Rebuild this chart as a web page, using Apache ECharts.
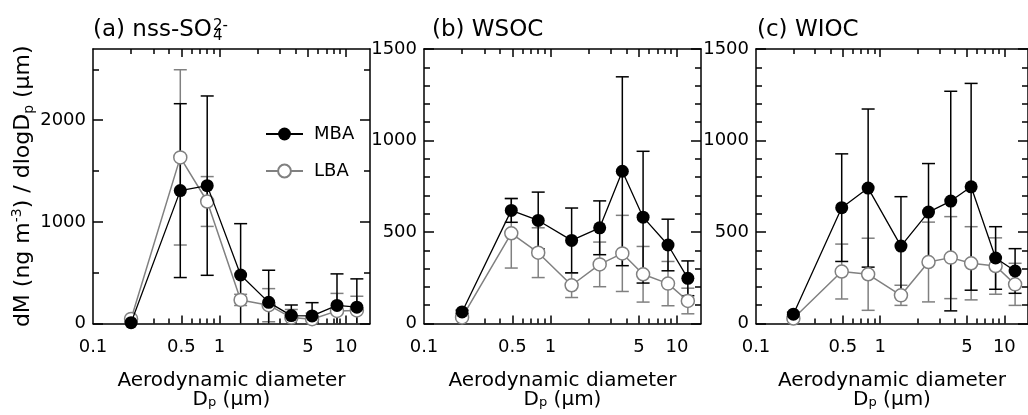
<!DOCTYPE html>
<html>
<head>
<meta charset="utf-8">
<script src="https://cdn.jsdelivr.net/npm/echarts@6/dist/echarts.min.js"></script>
<style>
  html, body { margin: 0; padding: 0; background: #fff; }
  #chart { width: 1028px; height: 415px; }
</style>
</head>
<body>
<div id="chart"></div>
<script>
// diametros medios de cada etapa del impactador (um)
const diameters = [0.2, 0.49, 0.8, 1.47, 2.45, 3.7, 5.4, 8.5, 12.2];

// (a) nss-SO4 2-
const nssMBA = [8, 1307, 1356, 477, 208, 78, 75, 178, 161];
const nssMBAerr = [10, 855, 882, 505, 316, 104, 130, 310, 278];
const nssLBA = [45, 1634, 1200, 232, 180, 58, 42, 124, 128];
const nssLBAerr = [10, 862, 245, 55, 163, 80, 60, 172, 140];

// (b) WSOC
const wsocMBA = [63, 618, 563, 454, 523, 832, 581, 429, 247];
const wsocMBAerr = [10, 65, 155, 177, 147, 516, 360, 141, 95];
const wsocLBA = [33, 493, 387, 209, 323, 383, 269, 218, 123];
const wsocLBAerr = [8, 190, 136, 67, 122, 208, 152, 121, 70];

// (c) WIOC
const wiocMBA = [51, 633, 740, 423, 609, 669, 747, 358, 287];
const wiocMBAerr = [10, 294, 432, 270, 265, 600, 565, 171, 122];
const wiocLBA = [27, 284, 269, 154, 336, 360, 329, 314, 214];
const wiocLBAerr = [8, 150, 197, 55, 218, 224, 200, 154, 115];

// ticks
const xLabels = [0.1, 0.5, 1, 5, 10];
const xMajor = [0.5, 1, 5, 10];
const xMinor = [0.2, 0.3, 0.4, 0.6, 0.7, 0.8, 0.9, 2, 3, 4, 6, 7, 8, 9];
const yMajorA = [0, 1000, 2000];
const yMinorA = [500, 1500, 2500];
const yMajorBC = [0, 500, 1000, 1500];
const yMinorBC = [100, 200, 300, 400, 600, 700, 800, 900, 1100, 1200, 1300, 1400];

const FONT = "DejaVu Sans";
const GREY = "#808080";
const xMin = 0.1, xMax = 15.5;

const panels = [
  { left: 93, yMax: 2700, yMajor: yMajorA, yMinor: yMinorA, mba: nssMBA, mbaErr: nssMBAerr, lba: nssLBA, lbaErr: nssLBAerr },
  { left: 424, yMax: 1500, yMajor: yMajorBC, yMinor: yMinorBC, mba: wsocMBA, mbaErr: wsocMBAerr, lba: wsocLBA, lbaErr: wsocLBAerr },
  { left: 756, yMax: 1500, yMajor: yMajorBC, yMinor: yMinorBC, mba: wiocMBA, mbaErr: wiocMBAerr, lba: wiocLBA, lbaErr: wiocLBAerr },
];

const axisLineStyle = { color: "#000", width: 1.5 };
const plainNumber = (v) => String(v);

const grids = [];
const xAxes = [];
const yAxes = [];
const series = [];

function errorBars(color) {
  return function (params, api) {
    const x = api.value(0);
    let lo = api.value(1);
    const hi = api.value(2);
    const capLo = lo > 0;
    if (!capLo) lo = 0;
    const pLo = api.coord([x, lo]);
    const pHi = api.coord([x, hi]);
    const w = 6.5;
    const st = () => ({ stroke: color, lineWidth: 1.5 });
    const children = [
      { type: "line", shape: { x1: pLo[0], y1: pLo[1], x2: pHi[0], y2: pHi[1] }, style: st() },
      { type: "line", shape: { x1: pHi[0] - w, y1: pHi[1], x2: pHi[0] + w, y2: pHi[1] }, style: st() },
    ];
    if (capLo) {
      children.push({ type: "line", shape: { x1: pLo[0] - w, y1: pLo[1], x2: pLo[0] + w, y2: pLo[1] }, style: st() });
    }
    return { type: "group", children: children };
  };
}

panels.forEach((p, gi) => {
  grids.push({ left: p.left, top: 49, width: 277, height: 275 });

  const xBase = { type: "log", logBase: 10, gridIndex: gi, min: xMin, max: xMax, splitLine: { show: false } };
  // abajo, ticks mayores + etiquetas + titulo
  xAxes.push(Object.assign({}, xBase, {
    position: "bottom",
    axisLine: { show: true, onZero: false, lineStyle: axisLineStyle },
    axisTick: { inside: true, length: 8, customValues: xMajor, lineStyle: axisLineStyle },
    axisLabel: { customValues: xLabels, margin: 15, fontSize: 18, fontFamily: FONT, color: "#000", formatter: plainNumber },
    name: "Aerodynamic diameter\nD{sub|p} (µm)",
    nameLocation: "middle",
    nameGap: 48,
    nameTextStyle: {
      fontSize: 20, fontFamily: FONT, color: "#000", lineHeight: 19,
      rich: { sub: { fontSize: 13, fontFamily: FONT, lineHeight: 8, verticalAlign: "bottom" } },
    },
  }));
  xAxes.push(Object.assign({}, xBase, {
    position: "bottom",
    axisLine: { show: false, onZero: false },
    axisTick: { inside: true, length: 5, customValues: xMinor, lineStyle: axisLineStyle },
    axisLabel: { show: false },
  }));
  xAxes.push(Object.assign({}, xBase, {
    position: "top",
    axisLine: { show: true, onZero: false, lineStyle: axisLineStyle },
    axisTick: { inside: true, length: 8, customValues: xMajor, lineStyle: axisLineStyle },
    axisLabel: { show: false },
  }));
  xAxes.push(Object.assign({}, xBase, {
    position: "top",
    axisLine: { show: false, onZero: false },
    axisTick: { inside: true, length: 5, customValues: xMinor, lineStyle: axisLineStyle },
    axisLabel: { show: false },
  }));

  const yBase = { type: "value", gridIndex: gi, min: 0, max: p.yMax, splitLine: { show: false } };
  const yLeft = Object.assign({}, yBase, {
    position: "left",
    axisLine: { show: true, onZero: false, lineStyle: axisLineStyle },
    axisTick: { inside: true, length: 10, customValues: p.yMajor, lineStyle: axisLineStyle },
    axisLabel: { customValues: p.yMajor, margin: 7, fontSize: 18, fontFamily: FONT, color: "#000", formatter: plainNumber },
  });
  if (gi === 0) {
    Object.assign(yLeft, {
      name: "dM (ng m{sup|-3}) / dlogD{sub|p} (µm)",
      nameLocation: "middle",
      nameRotate: 90,
      nameGap: 52,
      nameTextStyle: {
        fontSize: 22, fontFamily: FONT, color: "#000", lineHeight: 26,
        rich: {
          sup: { fontSize: 14, fontFamily: FONT, lineHeight: 10, verticalAlign: "top" },
          sub: { fontSize: 14, fontFamily: FONT, lineHeight: 8, verticalAlign: "bottom" },
        },
      },
    });
  }
  yAxes.push(yLeft);
  yAxes.push(Object.assign({}, yBase, {
    position: "left",
    axisLine: { show: false, onZero: false },
    axisTick: { inside: true, length: 6, customValues: p.yMinor, lineStyle: axisLineStyle },
    axisLabel: { show: false },
  }));
  yAxes.push(Object.assign({}, yBase, {
    position: "right",
    axisLine: { show: true, onZero: false, lineStyle: axisLineStyle },
    axisTick: { inside: true, length: 10, customValues: p.yMajor, lineStyle: axisLineStyle },
    axisLabel: { show: false },
  }));
  yAxes.push(Object.assign({}, yBase, {
    position: "right",
    axisLine: { show: false, onZero: false },
    axisTick: { inside: true, length: 6, customValues: p.yMinor, lineStyle: axisLineStyle },
    axisLabel: { show: false },
  }));

  const xi = gi * 4, yi = gi * 4;
  series.push({
    name: "LBA",
    type: "line",
    xAxisIndex: xi, yAxisIndex: yi,
    data: diameters.map((d, i) => [d, p.lba[i]]),
    symbol: "circle", symbolSize: 13,
    lineStyle: { color: GREY, width: 1.5 },
    itemStyle: { color: "#fff", borderColor: GREY, borderWidth: 1.5 },
    z: 3,
  });
  series.push({
    name: "MBA",
    type: "line",
    xAxisIndex: xi, yAxisIndex: yi,
    data: diameters.map((d, i) => [d, p.mba[i]]),
    symbol: "circle", symbolSize: 13,
    lineStyle: { color: "#000", width: 1.3 },
    itemStyle: { color: "#000" },
    z: 4,
  });
  series.push({
    name: "LBA err",
    type: "custom",
    xAxisIndex: xi, yAxisIndex: yi,
    data: diameters.map((d, i) => [d, p.lba[i] - p.lbaErr[i], p.lba[i] + p.lbaErr[i]]),
    encode: { x: 0, y: [1, 2] },
    renderItem: errorBars(GREY),
    silent: true,
    z: 1,
  });
  series.push({
    name: "MBA err",
    type: "custom",
    xAxisIndex: xi, yAxisIndex: yi,
    data: diameters.map((d, i) => [d, p.mba[i] - p.mbaErr[i], p.mba[i] + p.mbaErr[i]]),
    encode: { x: 0, y: [1, 2] },
    renderItem: errorBars("#000"),
    silent: true,
    z: 2,
  });
});

// medir el ancho del titulo (a) para colocar el sub/superindice
const ctx = document.createElement("canvas").getContext("2d");
ctx.font = '23px "' + FONT + '"';
const titleAWidth = ctx.measureText("(a) nss-SO").width;

const titleStyle = { fill: "#000", font: '23px "' + FONT + '"', verticalAlign: "middle" };

var myChart = echarts.init(document.getElementById("chart"), null, { renderer: "canvas" });

var option = {
  animation: false,
  backgroundColor: "#fff",
  legend: {
    data: ["MBA", "LBA"],
    selectedMode: false,
    orient: "vertical",
    left: 265,
    top: 124,
    padding: 0,
    itemWidth: 37,
    itemHeight: 16,
    itemGap: 17,
    textStyle: { fontSize: 18, fontFamily: FONT, color: "#000", lineHeight: 20, padding: [0, 0, 0, 6] },
  },
  grid: grids,
  xAxis: xAxes,
  yAxis: yAxes,
  series: series,
  graphic: [
    { type: "text", x: 93, y: 30, style: Object.assign({ text: "(a) nss-SO" }, titleStyle) },
    { type: "text", x: 93 + titleAWidth + 1, y: 36, style: { text: "4", fill: "#000", font: '15px "' + FONT + '"', verticalAlign: "middle" } },
    { type: "text", x: 93 + titleAWidth + 1, y: 26, style: { text: "2-", fill: "#000", font: '15px "' + FONT + '"', verticalAlign: "middle" } },
    { type: "text", x: 432, y: 30, style: Object.assign({ text: "(b) WSOC" }, titleStyle) },
    { type: "text", x: 757, y: 30, style: Object.assign({ text: "(c) WIOC" }, titleStyle) },
  ],
};

myChart.setOption(option);
</script>
</body>
</html>
